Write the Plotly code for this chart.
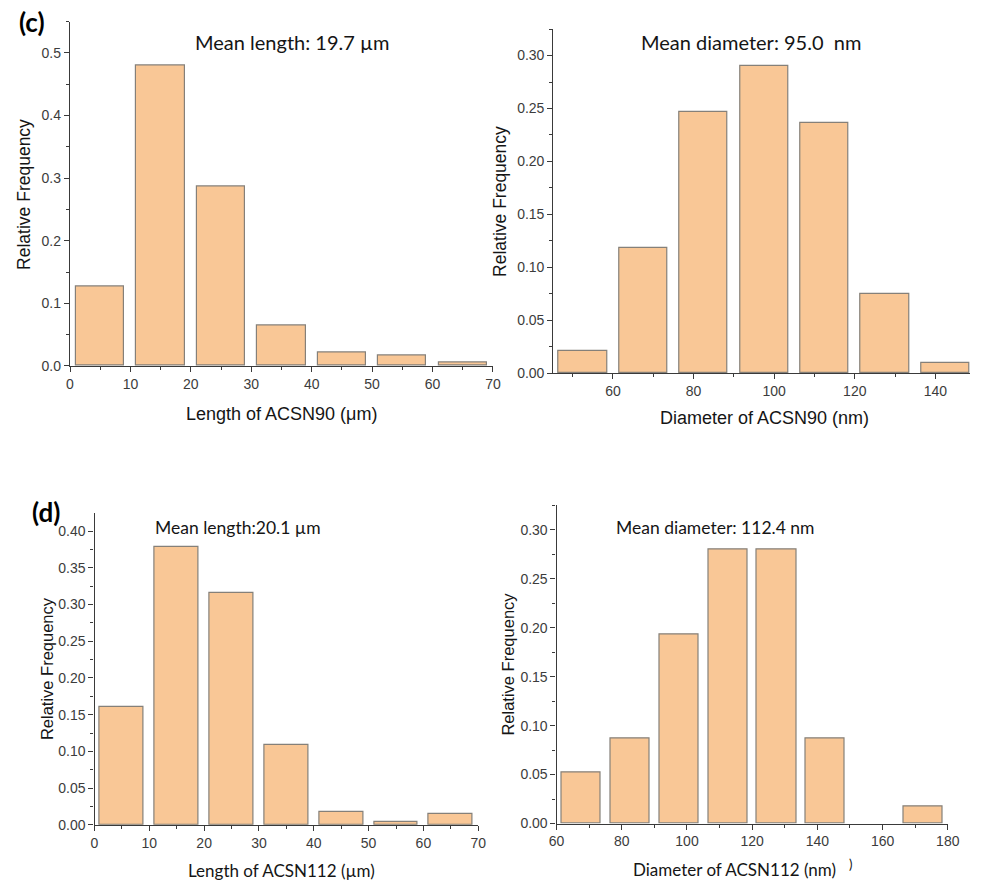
import plotly.graph_objects as go

# ---- data: relative-frequency histograms ----
# (c) ACSN90
len90_centers = [5, 15, 25, 35, 45, 55, 65]
len90_freq = [0.127, 0.479, 0.287, 0.064, 0.022, 0.017, 0.005]
dia90_centers = [52.5, 67.5, 82.5, 97.5, 112.5, 127.5, 142.5]
dia90_freq = [0.021, 0.118, 0.247, 0.290, 0.236, 0.075, 0.010]

# (d) ACSN112
len112_centers = [5, 15, 25, 35, 45, 55, 65]
len112_freq = [0.160, 0.378, 0.316, 0.108, 0.018, 0.004, 0.014]
dia112_centers = [67.5, 82.5, 97.5, 112.5, 127.5, 142.5, 157.5, 172.5]
dia112_freq = [0.052, 0.087, 0.193, 0.280, 0.280, 0.087, 0.0, 0.0175]

W, H = 982, 890
BAR_FILL = "#F9C796"
BAR_LINE = "#858079"
AXIS_COLOR = "#3a3a3a"
ARIAL = "Liberation Sans, Arial, sans-serif"
CAL_FONT = "Lato, Open Sans, sans-serif"
TICK_FONT = dict(family=ARIAL, size=14, color="#3c3c3c")


def px_dom(a, b, horiz=True):
    """pixel span -> paper domain"""
    if horiz:
        return [a / W, b / W]
    return [1 - b / H, 1 - a / H]


fig = go.Figure()

panels = [
    dict(x=len90_centers, y=len90_freq, w=8, xp=(63.3, 495), yp=(21.7, 369.3),
         xr=[0, 70], yr=[0, 0.55], xd=10, x0=0, yd=0.1, yfmt=".1f"),
    dict(x=dia90_centers, y=dia90_freq, w=12, xp=(556.7, 982), yp=(29.3, 376.7),
         xr=[45.2, 148.6], yr=[0, 0.325], xd=20, x0=60, yd=0.05, yfmt=".2f"),
    dict(x=len112_centers, y=len112_freq, w=8, xp=(88.3, 480), yp=(517.7, 832.3),
         xr=[0, 70], yr=[0, 0.4245], xd=10, x0=0, yd=0.05, yfmt=".2f"),
    dict(x=dia112_centers, y=dia112_freq, w=12, xp=(560, 959.3), yp=(510, 831),
         xr=[60, 180], yr=[0, 0.325], xd=20, x0=60, yd=0.05, yfmt=".2f"),
]

layout_axes = {}
for i, p in enumerate(panels, start=1):
    sfx = "" if i == 1 else str(i)
    # empty bins get no outline
    line_w = [1.2 if v > 0 else 0 for v in p["y"]]
    fig.add_trace(go.Bar(
        x=p["x"], y=p["y"], width=p["w"],
        marker=dict(color=BAR_FILL, line=dict(color=BAR_LINE, width=line_w)),
        xaxis="x" + sfx, yaxis="y" + sfx, showlegend=False,
    ))
    layout_axes["xaxis" + sfx] = dict(
        domain=px_dom(*p["xp"]), anchor="y" + sfx, range=p["xr"],
        showgrid=False, zeroline=False, showline=True, linecolor=AXIS_COLOR, linewidth=1.3,
        ticks="outside", ticklen=5, tickwidth=1.2, tickcolor=AXIS_COLOR,
        tick0=p["x0"], dtick=p["xd"], tickfont=TICK_FONT,
        minor=dict(ticks="outside", ticklen=3, tickwidth=1, tickcolor=AXIS_COLOR,
                   dtick=p["xd"] / 2, tick0=p["x0"]),
    )
    layout_axes["yaxis" + sfx] = dict(
        domain=px_dom(*p["yp"], horiz=False), anchor="x" + sfx, range=p["yr"],
        showgrid=False, zeroline=False, showline=True, linecolor=AXIS_COLOR, linewidth=1.3,
        ticks="outside", ticklen=5, tickwidth=1.2, tickcolor=AXIS_COLOR,
        tick0=0, dtick=p["yd"], tickformat=p["yfmt"], tickfont=TICK_FONT,
        minor=dict(ticks="outside", ticklen=3, tickwidth=1, tickcolor=AXIS_COLOR,
                   dtick=p["yd"] / 2, tick0=0),
    )

annotations = []


def text(x, y, s, size, family, color="#151515", angle=0):
    annotations.append(dict(
        x=x / W, y=1 - y / H, xref="paper", yref="paper", text=s, showarrow=False,
        xanchor="center", yanchor="middle", textangle=angle,
        font=dict(family=family, size=size, color=color),
    ))


# panel labels
text(25, 22, "<b>(c)</b>", 26, CAL_FONT, "#000000")
text(39, 517, "<b>(d)</b>", 26, CAL_FONT, "#000000")

# mean value captions
text(290, 42, "Mean length: 19.7 µm", 20, CAL_FONT)
text(758, 42, "Mean diameter: 95.0&nbsp; nm", 20, CAL_FONT)
text(235, 532, "Mean length:20.1 µm", 17.5, CAL_FONT)
text(722, 532, "Mean diameter: 112.4 nm", 17.5, CAL_FONT)

# axis titles
text(17, 196, "Relative Frequency", 17.5, ARIAL, angle=-90)
text(279, 418, "Length of ACSN90 (μm)", 18, ARIAL)
text(502, 203, "Relative Frequency", 17.5, ARIAL, angle=-90)
text(772, 422, "Diameter of ACSN90 (nm)", 18, ARIAL)
text(40, 675, "Relative Frequency", 16.5, ARIAL, angle=-90)
text(279, 878, "Length of ACSN112 (µm)", 17, CAL_FONT)
text(510, 670, "Relative Frequency", 16.5, ARIAL, angle=-90)
text(742, 877, "Diameter of ACSN112 (nm)", 17, CAL_FONT)
text(860, 872, ")", 13, CAL_FONT)

fig.update_layout(
    width=W, height=H, margin=dict(l=0, r=0, t=0, b=0),
    paper_bgcolor="white", plot_bgcolor="white",
    bargap=0, annotations=annotations, **layout_axes,
)

fig.write_html("out.html")
